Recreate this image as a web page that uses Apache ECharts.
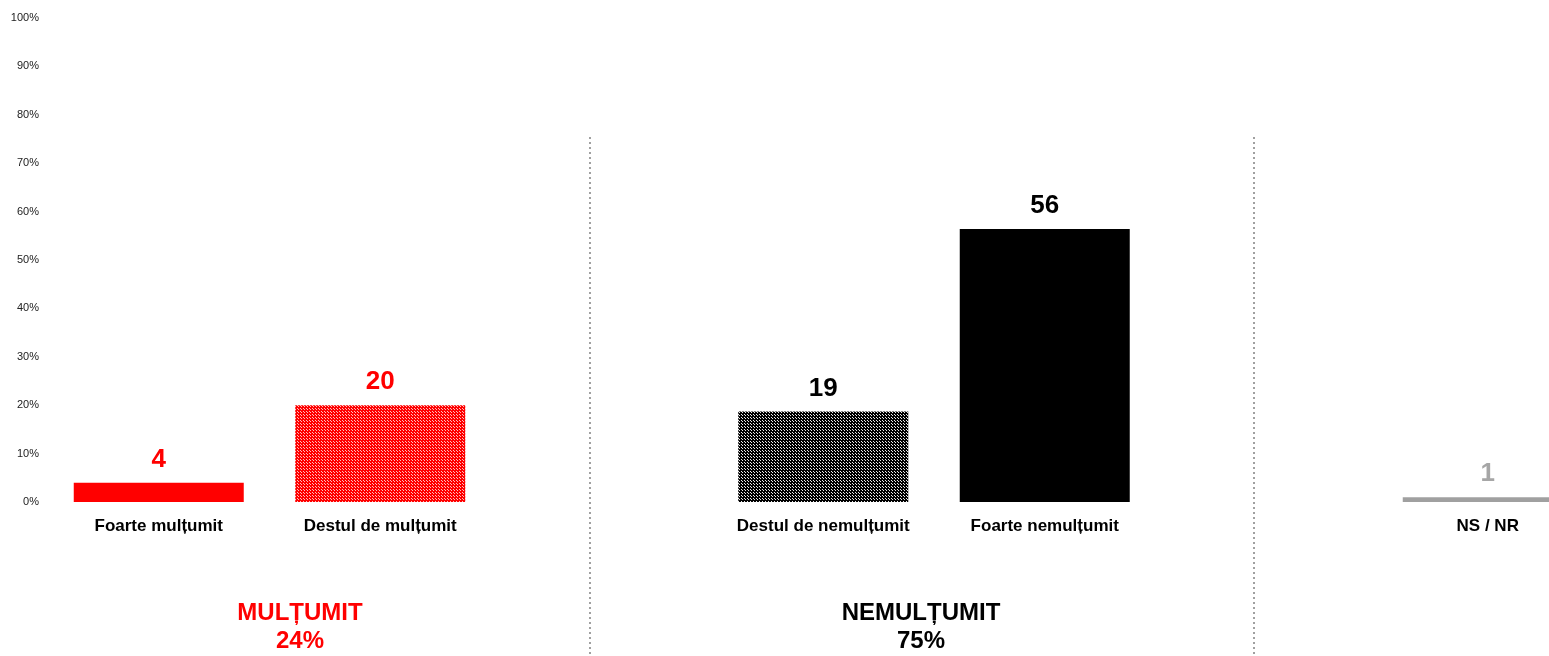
<!DOCTYPE html>
<html>
<head>
<meta charset="utf-8">
<script src="https://cdn.jsdelivr.net/npm/echarts@6/dist/echarts.min.js"></script>
<style>
  html, body { margin: 0; padding: 0; background: #fff; }
  #chart { width: 1549px; height: 656px; }
</style>
</head>
<body>
<div id="chart"></div>
<script>
// categorii (golurile separa grupele)
const categories = ['Foarte mulțumit', 'Destul de mulțumit', '', 'Destul de nemulțumit', 'Foarte nemulțumit', '', 'NS / NR'];
const values = [4, 20, '-', 18.7, 56.4, '-', 1];
const valueLabels = ['4', '20', '', '19', '56', '', '1'];
const yTicks = [0, 10, 20, 30, 40, 50, 60, 70, 80, 90, 100];
const groupNames = ['MULȚUMIT', 'NEMULȚUMIT'];
const groupTotals = [24, 75];

function pattern(base, dot) {
  const c = document.createElement('canvas');
  c.width = 3; c.height = 3;
  const ctx = c.getContext('2d');
  ctx.fillStyle = base;
  ctx.fillRect(0, 0, 3, 3);
  ctx.fillStyle = dot;
  ctx.fillRect(1, 1, 1, 1);
  ctx.fillRect(0, 0, 1, 1);
  return { image: c, repeat: 'repeat' };
}

const fills = [
  '#ff0000',
  pattern('rgb(255,0,0)', 'rgb(255,190,190)'),
  null,
  pattern('rgb(0,0,0)', 'rgb(235,235,235)'),
  '#000000',
  null,
  '#a0a0a0'
];
const labelColors = ['#ff0000', '#ff0000', null, '#000', '#000', null, '#a6a6a6'];

const mychart = echarts.init(document.getElementById('chart'));
const option = {
  animation: false,
  grid: { left: 48, width: 1550.5, top: 18, bottom: 154, outerBoundsMode: 'none', containLabel: false },
  xAxis: {
    type: 'category',
    data: categories,
    axisLine: { show: false },
    axisTick: { show: false },
    axisLabel: {
      color: '#000',
      fontFamily: 'Liberation Sans, Arial',
      fontWeight: 'bold',
      fontSize: 17,
      margin: 16,
      interval: 0
    }
  },
  yAxis: {
    type: 'value',
    min: yTicks[0],
    max: yTicks[yTicks.length - 1],
    interval: 10,
    axisLine: { show: false },
    axisTick: { show: false },
    splitLine: { show: false },
    axisLabel: {
      formatter: '{value}%',
      color: '#222',
      fontFamily: 'Liberation Sans, Arial',
      fontSize: 11,
      margin: 9
    }
  },
  series: [{
    type: 'bar',
    barWidth: 170,
    data: values.map((v, i) => ({
      value: v,
      itemStyle: { color: fills[i] || '#000' },
      label: { color: labelColors[i] || '#000' }
    })),
    label: {
      show: true,
      position: 'top',
      distance: 10,
      fontFamily: 'Liberation Sans, Arial',
      fontWeight: 'bold',
      fontSize: 26,
      formatter: p => valueLabels[p.dataIndex]
    }
  }],
  graphic: [
    {
      type: 'line', shape: { x1: 590, y1: 137, x2: 590, y2: 656 },
      style: { stroke: '#a0a0a0', lineWidth: 2, lineDash: [2, 3] }
    },
    {
      type: 'line', shape: { x1: 1254, y1: 137, x2: 1254, y2: 656 },
      style: { stroke: '#a0a0a0', lineWidth: 2, lineDash: [2, 3] }
    },
    {
      type: 'text', x: 300, y: 627,
      style: {
        text: groupNames[0] + '\n' + groupTotals[0] + '%',
        fill: '#ff0000', font: 'bold 24px Liberation Sans, Arial',
        align: 'center', verticalAlign: 'middle', lineHeight: 28
      }
    },
    {
      type: 'text', x: 921, y: 627,
      style: {
        text: groupNames[1] + '\n' + groupTotals[1] + '%',
        fill: '#000', font: 'bold 24px Liberation Sans, Arial',
        align: 'center', verticalAlign: 'middle', lineHeight: 28
      }
    }
  ]
};
mychart.setOption(option);
</script>
</body>
</html>
